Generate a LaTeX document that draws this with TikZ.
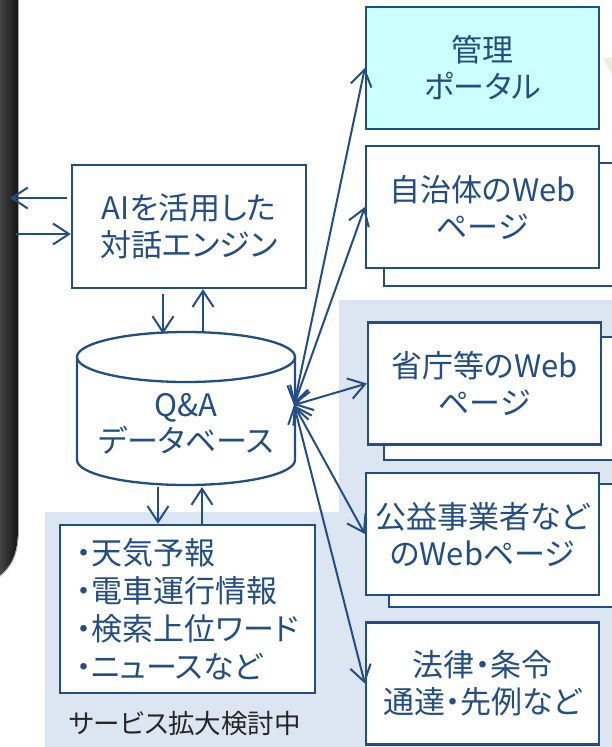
\documentclass[tikz,border=0pt]{standalone}
\usepackage{fontspec}
\setmainfont{Noto Sans CJK JP}[RawFeature=+palt]
\usetikzlibrary{arrows.meta,calc}
\definecolor{navy}{RGB}{35,78,132}
\definecolor{regionbg}{RGB}{220,230,242}
\definecolor{portal}{RGB}{204,255,255}
\definecolor{faint}{RGB}{236,239,224}
\begin{document}
\begin{tikzpicture}[x=1pt,y=-1pt,
  box/.style={draw=navy, line width=2.3pt, fill=white, minimum width=233pt, minimum height=122pt,
    text=navy, align=center, font=\fontsize{31}{37}\selectfont, inner sep=0pt},
  backbox/.style={draw=navy, line width=2.3pt, fill=white, minimum width=245pt, minimum height=123pt,
    anchor=north west, inner sep=0pt},
  conn/.style={draw=navy, line width=2pt, arrows={-Straight Barb[length=16pt,width=21pt]}},
  biconn/.style={draw=navy, line width=2pt, arrows={Straight Barb[length=16pt,width=21pt]-Straight Barb[length=16pt,width=21pt]}},
]
\useasboundingbox (0,0) rectangle (612,747);
\fill[white] (0,0) rectangle (612,747);
% background region
\fill[regionbg] (45,512) -- (339,512) -- (339,300) -- (620,300) -- (620,760) -- (45,760) -- cycle;
% faint shape top right
\fill[faint] (603,58) -- (614,57) -- (614,80) -- cycle;
% dark panel
\shade[left color=black!72, right color=black!92] (-2,-2) -- (18,-2) -- (18,530) .. controls (18,556) and (10,568) .. (-2,577) -- cycle;
\draw[black!35, line width=0.8pt] (18.5,-2) -- (18.5,530) .. controls (18.5,556) and (10.5,568) .. (-2,578);
\coordinate (panel) at (0,0);

% right boxes
\node[box, fill=portal] (portal) at (482.5,68) {管理\\ポータル};
\node[backbox] (jichiback) at (383,162) {};
\node[box] (jichi) at (482.5,207) {自治体のWeb\\ページ};
\node[backbox] (shochoback) at (383,336) {};
\node[box] (shocho) at (484.5,383.5) {省庁等のWeb\\ページ};
\node[backbox] (koekiback) at (388,483) {};
\node[box] (koeki) at (482.5,534) {公益事業者など\\のWebページ};
\node[box] (horitsu) at (482.5,683.5) {法律・条令\\通達・先例など};

% AI box
\node[box, minimum width=234pt, minimum height=123pt] (ai) at (189,226.5) {AIを活用した\\対話エンジン};

% database cylinder
\fill[white] (77,357) -- (77,460) arc[start angle=180, end angle=360, x radius=109, y radius=-25] -- (295,357) -- cycle;
\draw[navy, line width=2.3pt, fill=white] (186,357) ellipse[x radius=109, y radius=25];
\draw[navy, line width=2.3pt] (77,357) -- (77,460) arc[start angle=180, end angle=360, x radius=109, y radius=-25] -- (295,357);
\node[text=navy, align=center, font=\fontsize{31}{36}\selectfont, inner sep=0pt] (db) at (186,424) {Q\&A\\データベース};
\coordinate (dbtop) at (186,332);
\coordinate (dbbot) at (186,485);
\coordinate (dbr) at (294,405);

% info box
\node[box, minimum width=255pt, minimum height=168pt] (info) at (187.5,609) {};
\node[text=navy, align=left, anchor=west, font=\fontsize{31}{38}\selectfont, inner sep=0pt] (infotext) at (76,609)
  {・天気予報\\・電車運行情報\\・検索上位ワード\\・ニュースなど};
\node[text=black!85, font=\fontsize{26.5}{30}\selectfont, inner sep=0pt] (caption) at (185,723) {サービス拡大検討中};

% connectors AI <-> panel
\coordinate (pout) at ([yshift=28.5pt]ai.west -| panel);
\coordinate (pin) at ([yshift=-7.5pt]ai.west -| panel);
\draw[conn] ([xshift=-4pt,yshift=28.5pt]ai.west) -- ($(pout)+(10,0)$);
\draw[conn] ($(pin)+(16,0)$) -- ([yshift=-7.5pt]ai.west);
% AI <-> db
\draw[conn] ([xshift=-26pt,yshift=-5pt]ai.south) -- ([xshift=-26pt,yshift=-2pt]ai.south |- dbtop);
\draw[conn] ([xshift=14pt]ai.south |- dbtop) -- ([xshift=14pt]ai.south);
% db <-> info
\draw[conn] ([xshift=-28pt,yshift=-2pt]dbbot) -- ([xshift=-29.5pt]info.north);
\draw[conn] ([xshift=14.5pt]info.north) -- ([xshift=16pt,yshift=-2pt]dbbot);
% db <-> right boxes
\draw[biconn] (dbr) -- (portal.west);
\draw[biconn] (dbr) -- (jichi.west);
\draw[biconn] (dbr) -- (shocho.west);
\draw[biconn] (dbr) -- (koeki.west);
\draw[biconn] (dbr) -- (horitsu.west);
\end{tikzpicture}
\end{document}
